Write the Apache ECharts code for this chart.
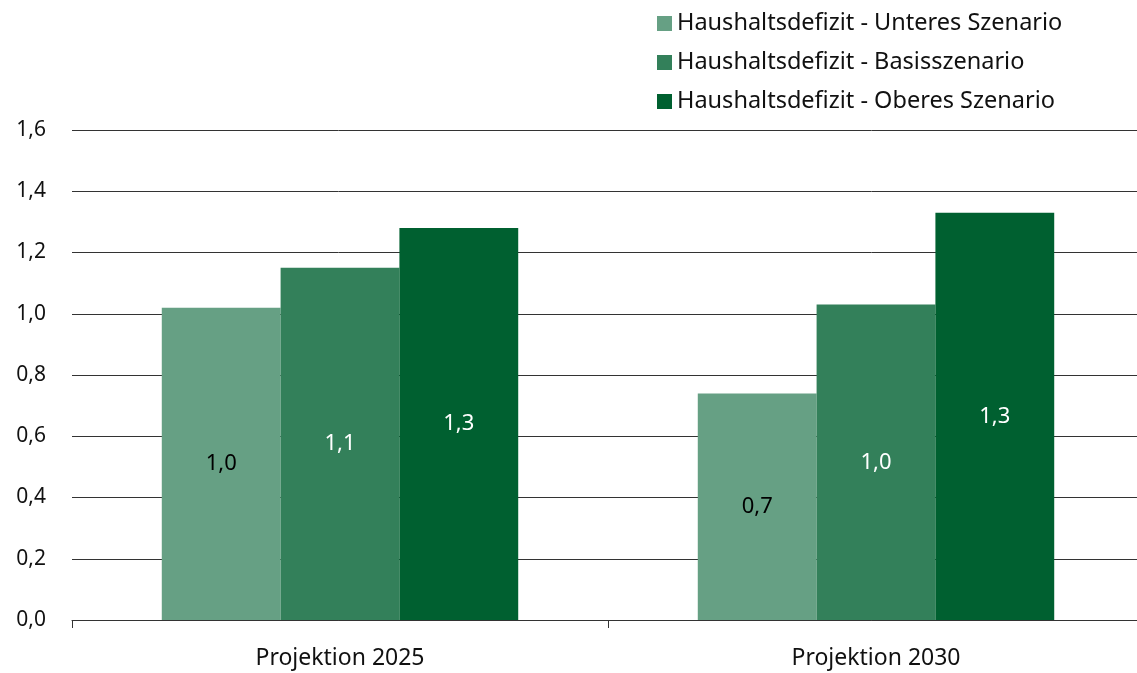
<!DOCTYPE html>
<html>
<head>
<meta charset="utf-8">
<script src="https://cdn.jsdelivr.net/npm/echarts@6/dist/echarts.min.js"></script>
<style>
  html, body { margin: 0; padding: 0; background: #fff; }
  #chart { width: 1137px; height: 673px; }
</style>
</head>
<body>
<div id="chart"></div>
<script>
const categories = ['Projektion 2025', 'Projektion 2030'];
const seriesNames = [
    'Haushaltsdefizit - Unteres Szenario',
    'Haushaltsdefizit - Basisszenario',
    'Haushaltsdefizit - Oberes Szenario'
];
const unteres = [1.02, 0.74];
const basis = [1.15, 1.03];
const oberes = [1.28, 1.33];
const colors = ['#66a084', '#33805a', '#006030'];
const labelColors = ['#000', '#fff', '#fff'];

const font = 'Noto Sans';
const fmt = v => v.toFixed(1).replace('.', ',');

const chart = echarts.init(document.getElementById('chart'));
chart.setOption({
    animation: false,
    textStyle: { fontFamily: font },
    legend: {
        orient: 'vertical',
        left: 652,
        top: 6,
        itemWidth: 15,
        itemHeight: 15,
        itemGap: 14,
        icon: 'rect',
        textStyle: { fontSize: 23.5, color: '#111', fontFamily: font, lineHeight: 25 },
        data: seriesNames
    },
    grid: { left: 72, width: 1072, top: 130, bottom: 53, outerBoundsMode: 'none', containLabel: false },
    xAxis: {
        type: 'category',
        data: categories,
        axisLine: { lineStyle: { color: '#333', width: 1 } },
        axisTick: { show: true, length: 8, lineStyle: { color: '#333' } },
        axisLabel: { fontSize: 23, color: '#111', margin: 27, fontFamily: font }
    },
    yAxis: {
        type: 'value',
        min: 0,
        max: 1.6,
        interval: 0.2,
        axisLine: { show: false },
        axisTick: { show: false },
        axisLabel: { fontSize: 21, color: '#111', margin: 26, formatter: fmt, fontFamily: font },
        splitLine: { lineStyle: { color: '#333', width: 1 } }
    },
    series: [unteres, basis, oberes].map((data, i) => ({
        name: seriesNames[i],
        type: 'bar',
        data: data,
        barGap: '0%',
        barCategoryGap: '33.5%',
        itemStyle: { color: colors[i] },
        label: {
            show: true,
            position: 'inside',
            color: labelColors[i],
            fontSize: 22,
            fontFamily: font,
            formatter: p => fmt(p.value)
        }
    }))
});
</script>
</body>
</html>
